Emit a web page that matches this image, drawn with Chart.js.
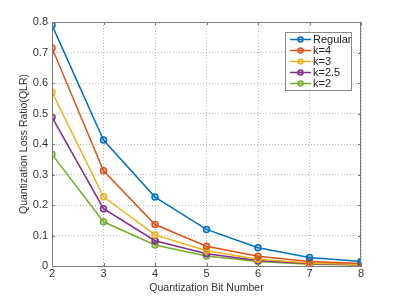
<!DOCTYPE html>
<html><head><meta charset="utf-8">
<script src="https://cdn.jsdelivr.net/npm/chart.js@4/dist/chart.umd.min.js"></script>
<style>html,body{margin:0;padding:0;background:#fff}#wrap{width:399px;height:299px}</style>
</head><body><div id="wrap"><canvas id="c" width="399" height="299"></canvas></div>
<script>
const bits = [2, 3, 4, 5, 6, 7, 8];
const seriesNames = ['Regular', 'k=4', 'k=3', 'k=2.5', 'k=2'];
const regular = [0.790, 0.413, 0.226, 0.120, 0.060, 0.028, 0.015];
const k4 = [0.715, 0.312, 0.136, 0.065, 0.032, 0.015, 0.008];
const k3 = [0.570, 0.227, 0.102, 0.050, 0.022, 0.010, 0.005];
const k25 = [0.488, 0.188, 0.083, 0.040, 0.018, 0.008, 0.004];
const k2 = [0.366, 0.145, 0.069, 0.033, 0.015, 0.006, 0.003];
const yTicks = [0, 0.1, 0.2, 0.3, 0.4, 0.5, 0.6, 0.7, 0.8];
const colors = ['#0072BD', '#D95319', '#EDB120', '#7E2F8E', '#77AC30'];
const allSeries = [regular, k4, k3, k25, k2];

const FONT = "'Liberation Sans', Arial, sans-serif";
const datasets = allSeries.map((s, i) => ({
  label: seriesNames[i],
  data: bits.map((b, j) => ({x: b, y: s[j]})),
  borderColor: colors[i],
  backgroundColor: colors[i],
  pointBackgroundColor: colors[i] + '55',
  pointBorderColor: colors[i],
  pointRadius: 3,
  pointBorderWidth: 1.5,
  borderWidth: 1.5,
  tension: 0
}));

const framePlugin = {
  id: 'frame',
  afterDatasetsDraw(chart) {
    const {ctx, chartArea: a, scales} = chart;
    ctx.save();
    ctx.strokeStyle = '#7a7a7a';
    ctx.lineWidth = 1;
    ctx.strokeRect(a.left + 0.5, a.top + 0.5, a.right - a.left - 1, a.bottom - a.top);
    ctx.beginPath();
    bits.forEach(b => {
      const x = Math.round(scales.x.getPixelForValue(b)) + 0.5;
      ctx.moveTo(x, a.bottom); ctx.lineTo(x, a.bottom - 3);
      ctx.moveTo(x, a.top); ctx.lineTo(x, a.top + 3);
    });
    yTicks.forEach(v => {
      const y = Math.round(scales.y.getPixelForValue(v)) + 0.5;
      ctx.moveTo(a.left, y); ctx.lineTo(a.left + 3, y);
      ctx.moveTo(a.right, y); ctx.lineTo(a.right - 3, y);
    });
    ctx.stroke();
    const lx = 285, ly = 32, lw = 66, lh = 58;
    ctx.fillStyle = '#fff';
    ctx.fillRect(lx, ly, lw, lh);
    ctx.strokeStyle = '#8a8a8a';
    ctx.strokeRect(lx + 0.5, ly + 0.5, lw, lh);
    ctx.font = '11px ' + FONT;
    ctx.textBaseline = 'middle';
    ctx.textAlign = 'left';
    seriesNames.forEach((n, i) => {
      const y = 39.5 + i * 11;
      ctx.strokeStyle = colors[i];
      ctx.lineWidth = 1.5;
      ctx.beginPath(); ctx.moveTo(290, y); ctx.lineTo(311, y); ctx.stroke();
      ctx.beginPath(); ctx.arc(300.5, y, 2.5, 0, Math.PI * 2);
      ctx.fillStyle = colors[i] + '55'; ctx.fill(); ctx.stroke();
      ctx.fillStyle = '#222';
      ctx.fillText(n, 313, y);
    });
    ctx.restore();
  }
};

new Chart(document.getElementById('c'), {
  type: 'line',
  data: {datasets},
  options: {
    responsive: false,
    animation: false,
    layout: {padding: {left: 18, right: 38, top: 22, bottom: 5}},
    plugins: {legend: {display: false}, tooltip: {enabled: false}},
    scales: {
      x: {
        type: 'linear', min: 2, max: 8,
        afterFit(s) { s.height = 28; },
        afterBuildTicks(s) { s.ticks = bits.map(v => ({value: v})); },
        ticks: {color: '#333', font: {family: FONT, size: 11}, padding: 1,
          callback: v => String(v)},
        grid: {color: 'rgba(0,0,0,0.28)', drawTicks: false},
        border: {display: true, color: '#7a7a7a', dash: [1, 2]},
        title: {display: true, text: 'Quantization Bit Number', color: '#333',
          font: {family: FONT, size: 10.5}, padding: {top: 0, bottom: 0}}
      },
      y: {
        min: 0, max: 0.8,
        afterFit(s) { s.width = 34; },
        afterBuildTicks(s) { s.ticks = yTicks.map(v => ({value: v})); },
        ticks: {color: '#333', font: {family: FONT, size: 11}, padding: 4,
          callback: v => v === 0 ? '0' : v.toFixed(1)},
        grid: {color: 'rgba(0,0,0,0.28)', drawTicks: false},
        border: {display: true, color: '#7a7a7a', dash: [1, 2]},
        title: {display: true, text: 'Quantization Loss Ratio(QLR)', color: '#333',
          font: {family: FONT, size: 10.5}, padding: {top: 0, bottom: 0}}
      }
    },
    elements: {line: {fill: false}}
  },
  plugins: [framePlugin]
});
</script>
</body></html>
